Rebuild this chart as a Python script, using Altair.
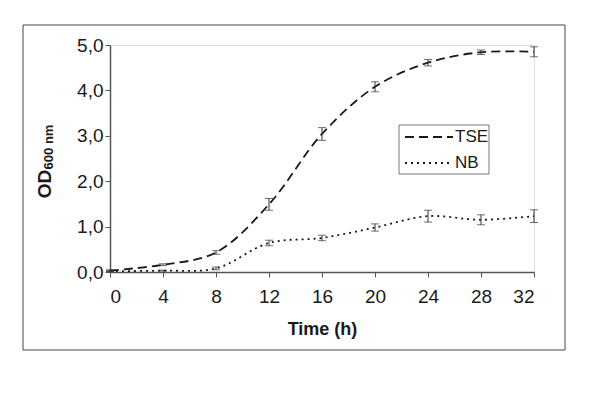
import altair as alt
import pandas as pd

time_h = [0, 4, 8, 12, 16, 20, 24, 28, 32]
tse = [0.03, 0.16, 0.43, 1.49, 3.04, 4.08, 4.61, 4.84, 4.85]
tse_err = [0.02, 0.02, 0.04, 0.13, 0.14, 0.11, 0.07, 0.05, 0.11]
nb = [0.02, 0.03, 0.08, 0.64, 0.75, 0.98, 1.23, 1.15, 1.23]
nb_err = [0.01, 0.01, 0.03, 0.06, 0.06, 0.08, 0.13, 0.11, 0.14]
series = ["TSE", "NB"]

rows = []
for s, vals, errs in [("TSE", tse, tse_err), ("NB", nb, nb_err)]:
    for t, v, e in zip(time_h, vals, errs):
        rows.append({"time": t, "od": v, "lo": v - e, "hi": v + e, "series": s})
df = pd.DataFrame(rows)

FONT = "Liberation Sans"
INK = "#1a1a1a"
DASHES = {"TSE": [9, 5], "NB": [2, 4]}

xscale = alt.Scale(domain=[0, 32], nice=False, zero=False)
yscale = alt.Scale(domain=[0, 5], nice=False)

x_axis = alt.Axis(values=time_h, title="Time (h)", titleFontSize=18, titleFontWeight="bold",
                  titleFont=FONT, titleColor=INK, titlePadding=14,
                  labelFont=FONT, labelFontSize=19, labelColor=INK, labelPadding=10,
                  tickSize=5, tickColor="#555", domainColor="#555", domainWidth=1.5, grid=False)
y_axis = alt.Axis(values=[0, 1, 2, 3, 4, 5], title=None,
                  labelExpr="replace(format(datum.value, '.1f'), '.', ',')",
                  labelFont=FONT, labelFontSize=19, labelColor=INK, labelPadding=2,
                  tickSize=5, tickColor="#555", domainColor="#555", domainWidth=1.5, grid=False)

base = alt.Chart(df)

lines = base.mark_line(interpolate="catmull-rom", strokeWidth=1.8).encode(
    x=alt.X("time:Q", scale=xscale, axis=x_axis),
    y=alt.Y("od:Q", scale=yscale, axis=y_axis),
    strokeDash=alt.StrokeDash("series:N", sort=series,
                              scale=alt.Scale(domain=series, range=[DASHES[s] for s in series]),
                              legend=None),
    color=alt.value(INK),
)

bars = base.mark_rule(strokeWidth=1, color="#333").encode(
    x="time:Q", y="lo:Q", y2="hi:Q")
cap_lo = base.mark_tick(orient="horizontal", size=8, thickness=1, color="#333").encode(
    x="time:Q", y="lo:Q")
cap_hi = base.mark_tick(orient="horizontal", size=8, thickness=1, color="#333").encode(
    x="time:Q", y="hi:Q")

one = pd.DataFrame({"a": [0]})
frame = alt.Chart(one).mark_rect(
    fill=None, stroke="#444", strokeWidth=1, clip=False).encode(
    x=alt.value(-87), x2=alt.value(455), y=alt.value(-20), y2=alt.value(305))

# legend (manual)
legend_box = alt.Chart(one).mark_rect(fill="white", stroke="#777", strokeWidth=1).encode(
    x=alt.value(289), x2=alt.value(379), y=alt.value(80), y2=alt.value(129))
legend_layers = []
for i, s in enumerate(series):
    yy = 92 + i * 26
    ldf = pd.DataFrame({"label": [s]})
    legend_layers.append(alt.Chart(ldf).mark_rule(strokeWidth=1.8, color=INK, strokeDash=DASHES[s]).encode(
        x=alt.value(295), x2=alt.value(343), y=alt.value(yy)))
    legend_layers.append(alt.Chart(ldf).mark_text(font=FONT, fontSize=17, color=INK,
                                                  align="left", baseline="middle").encode(
        text="label:N", x=alt.value(345), y=alt.value(yy)))

title_df = pd.DataFrame({"t": ["OD"]})
ytitle_main = alt.Chart(title_df).mark_text(
    angle=270, font=FONT, fontSize=19, fontWeight="bold", color=INK,
    align="center", baseline="middle").encode(
    text="t:N", x=alt.value(-65), y=alt.value(139))
sub_df = pd.DataFrame({"t": ["600 nm"]})
ytitle_sub = alt.Chart(sub_df).mark_text(
    angle=270, font=FONT, fontSize=13, fontWeight="bold", color=INK,
    align="center", baseline="middle").encode(
    text="t:N", x=alt.value(-61), y=alt.value(102))

chart = alt.layer(frame, lines, bars, cap_lo, cap_hi, legend_box, *legend_layers,
                  ytitle_main, ytitle_sub).properties(
    width=424, height=227,
    autosize=alt.AutoSizeParams(type="none"),
    padding={"left": 102, "top": 37, "right": 40, "bottom": 80},
).configure_view(stroke="#888", strokeWidth=1.2).configure(background="white")

chart.save("out.html", embed_options={"renderer": "svg", "actions": False})
